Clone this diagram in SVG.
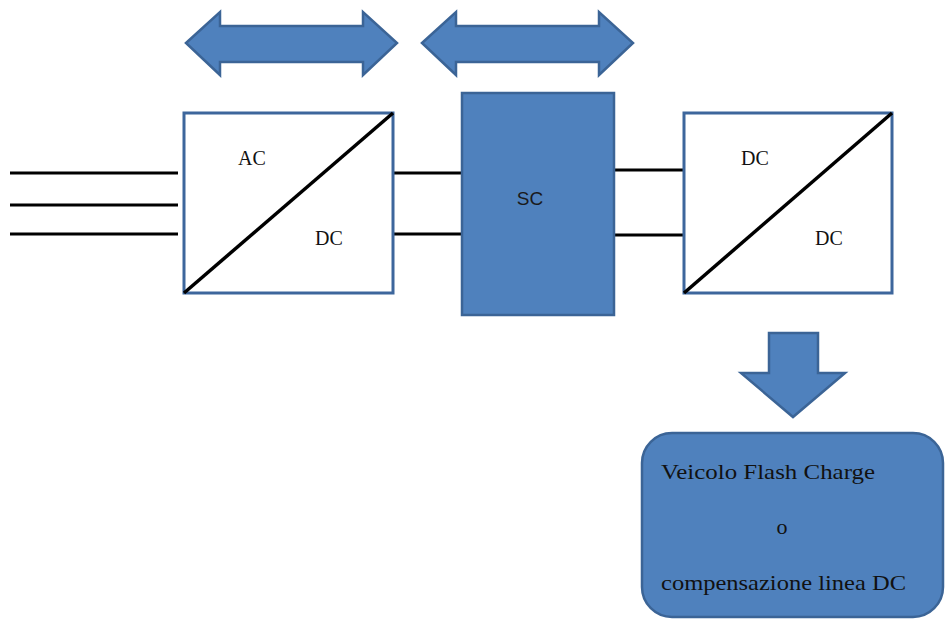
<svg xmlns="http://www.w3.org/2000/svg" width="945" height="619" viewBox="0 0 945 619">
<style>
.blk{fill:#4f81bd;stroke:#3b6496;stroke-width:2.5}
.conv{fill:#fff;stroke:#3d669c;stroke-width:3}
.wire{stroke:#000;stroke-width:3;fill:none}
.diag{stroke:#000;stroke-width:3.5;fill:none}
.lbl{font-family:"Liberation Serif",serif;font-size:20px;fill:#111}
.big{font-family:"Liberation Serif",serif;font-size:22px;fill:#111}
.sc{font-family:"Liberation Sans",sans-serif;font-size:19px;fill:#1a1a1a}
</style>
<rect width="945" height="619" fill="#fff"/>
<g id="connectors">
<line class="wire" x1="10" y1="173" x2="178" y2="173"/>
<line class="wire" x1="10" y1="205" x2="178" y2="205"/>
<line class="wire" x1="10" y1="234" x2="178" y2="234"/>
<line class="wire" x1="393" y1="173" x2="462" y2="173"/>
<line class="wire" x1="393" y1="234" x2="462" y2="234"/>
<line class="wire" x1="614" y1="170" x2="684" y2="170"/>
<line class="wire" x1="614" y1="235" x2="684" y2="235"/>
</g>
<g id="arrow-left">
<polygon class="blk" points="186,43 220,12 220,26 363,26 363,12 397,43 363,75 363,62 220,62 220,75"/>
</g>
<g id="arrow-right">
<polygon class="blk" points="422,43 456,12 456,26 599,26 599,12 633,43 599,75 599,62 456,62 456,75"/>
</g>
<g id="acdc">
<rect class="conv" x="184" y="113" width="209" height="180"/>
<line class="diag" x1="184" y1="293" x2="393" y2="113"/>
<text class="lbl" x="252" y="165" text-anchor="middle">AC</text>
<text class="lbl" x="329" y="245" text-anchor="middle">DC</text>
</g>
<g id="sc">
<rect class="blk" x="462" y="93" width="152" height="222"/>
<text class="sc" x="530" y="205" text-anchor="middle">SC</text>
</g>
<g id="dcdc">
<rect class="conv" x="684" y="113" width="208" height="180"/>
<line class="diag" x1="684" y1="293" x2="892" y2="113"/>
<text class="lbl" x="755" y="165" text-anchor="middle">DC</text>
<text class="lbl" x="829" y="245" text-anchor="middle">DC</text>
</g>
<g id="arrow-down">
<polygon class="blk" points="769,333 818,333 818,373 845,373 793,417 741,373 769,373"/>
</g>
<g id="load">
<rect class="blk" x="642" y="433" width="301" height="184" rx="30" ry="30"/>
<text class="big" x="661" y="479" textLength="214" lengthAdjust="spacingAndGlyphs">Veicolo Flash Charge</text>
<text class="big" x="782" y="534" text-anchor="middle">o</text>
<text class="big" x="661" y="590" textLength="245" lengthAdjust="spacingAndGlyphs">compensazione linea DC</text>
</g>
</svg>
